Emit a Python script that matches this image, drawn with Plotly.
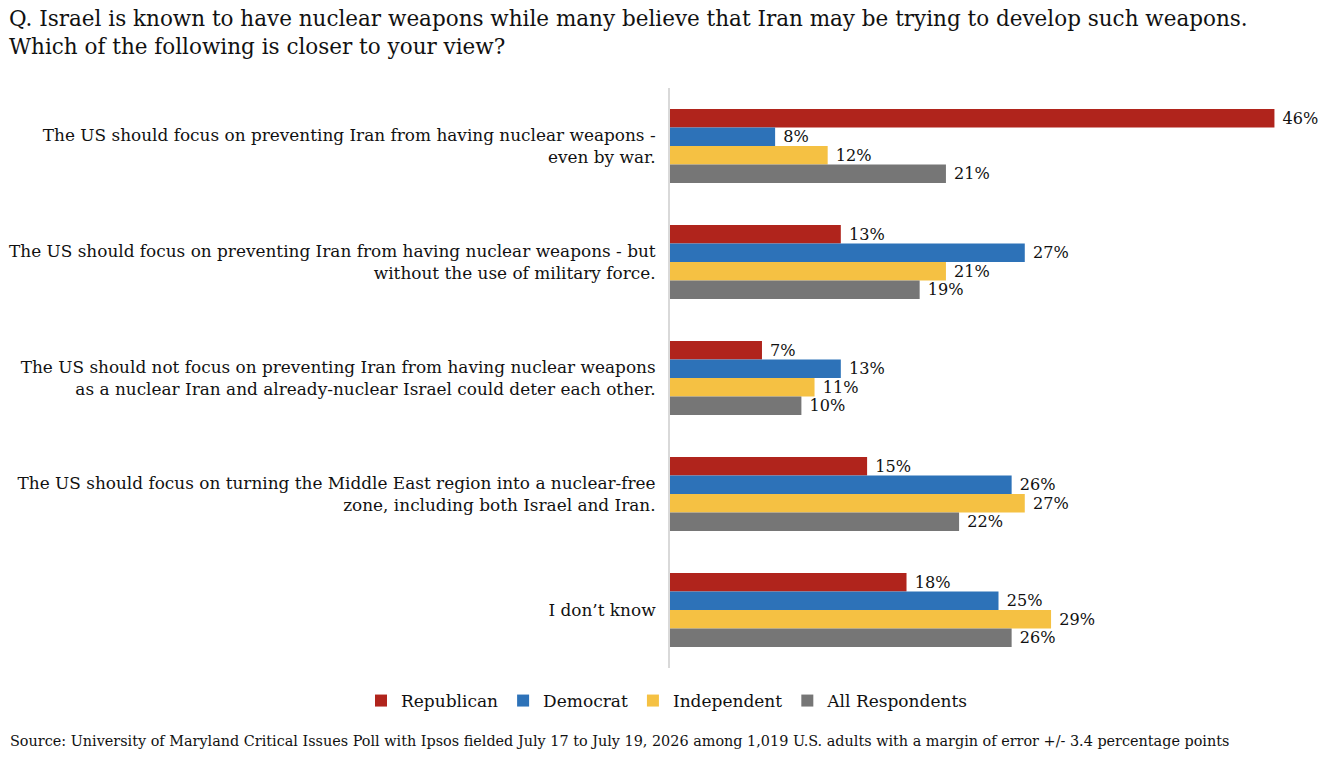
import plotly.graph_objects as go

categories = [
    "The US should focus on preventing Iran from having nuclear weapons -<br>even by war.",
    "The US should focus on preventing Iran from having nuclear weapons - but<br>without the use of military force.",
    "The US should not focus on preventing Iran from having nuclear weapons<br>as a nuclear Iran and already-nuclear Israel could deter each other.",
    "The US should focus on turning the Middle East region into a nuclear-free<br>zone, including both Israel and Iran.",
    "I don\u2019t know",
]
republican = [46, 13, 7, 15, 18]
democrat = [8, 27, 13, 26, 25]
independent = [12, 21, 11, 27, 29]
all_resp = [21, 19, 10, 22, 26]

series = [
    ("Republican", republican, "#B0241C"),
    ("Democrat", democrat, "#2D72B8"),
    ("Independent", independent, "#F5C143"),
    ("All Respondents", all_resp, "#767676"),
]

FONT = "DejaVu Serif"
L, R, T, B = 670, 7, 88, 96
W, H = 1334, 764
PW, PH = W - L - R, H - T - B


def px_x(x):
    return (x - L) / PW


def px_y(y):
    return (H - B - y) / PH


fig = go.Figure()
for name, vals, color in series:
    fig.add_trace(go.Bar(
        name=name, y=categories, x=vals, orientation="h",
        marker=dict(color=color, line=dict(width=0)),
        text=[f" {v}%" for v in vals], textposition="outside",
        textfont=dict(family=FONT, size=16.5, color="#111111"),
        cliponaxis=False,
    ))

fig.update_layout(
    width=W, height=H,
    barmode="group", bargap=0.36, bargroupgap=0,
    plot_bgcolor="white", paper_bgcolor="white",
    margin=dict(l=L, r=R, t=T, b=B, autoexpand=False),
    font=dict(family=FONT, size=17, color="#111111"),
    xaxis=dict(range=[0, 50], visible=False, fixedrange=True, automargin=False),
    yaxis=dict(
        autorange="reversed", showline=True, linecolor="#D9D9D9", linewidth=2,
        ticks="", ticklabelstandoff=9, showgrid=False, automargin=False,
        tickfont=dict(family=FONT, size=16.9, color="#111111"),
    ),
    legend=dict(
        orientation="h", x=0.5, xanchor="center", xref="container",
        y=1 - 701 / H, yanchor="middle", yref="container",
        font=dict(family=FONT, size=17, color="#111111"),
        itemwidth=30,
    ),
    annotations=[
        dict(
            text="Q. Israel is known to have nuclear weapons while many believe that Iran may be trying to develop such weapons.<br>Which of the following is closer to your view?",
            xref="paper", yref="paper", x=px_x(7), y=px_y(4),
            xanchor="left", yanchor="top", align="left", showarrow=False,
            font=dict(family=FONT, size=21.5, color="#111111"),
        ),
        dict(
            text="Source: University of Maryland Critical Issues Poll with Ipsos fielded July 17 to July 19, 2026 among 1,019 U.S. adults with a margin of error +/- 3.4 percentage points",
            xref="paper", yref="paper", x=px_x(8), y=px_y(741),
            xanchor="left", yanchor="middle", showarrow=False,
            font=dict(family=FONT, size=14.4, color="#111111"),
        ),
    ],
)

fig.write_html("out.html")
